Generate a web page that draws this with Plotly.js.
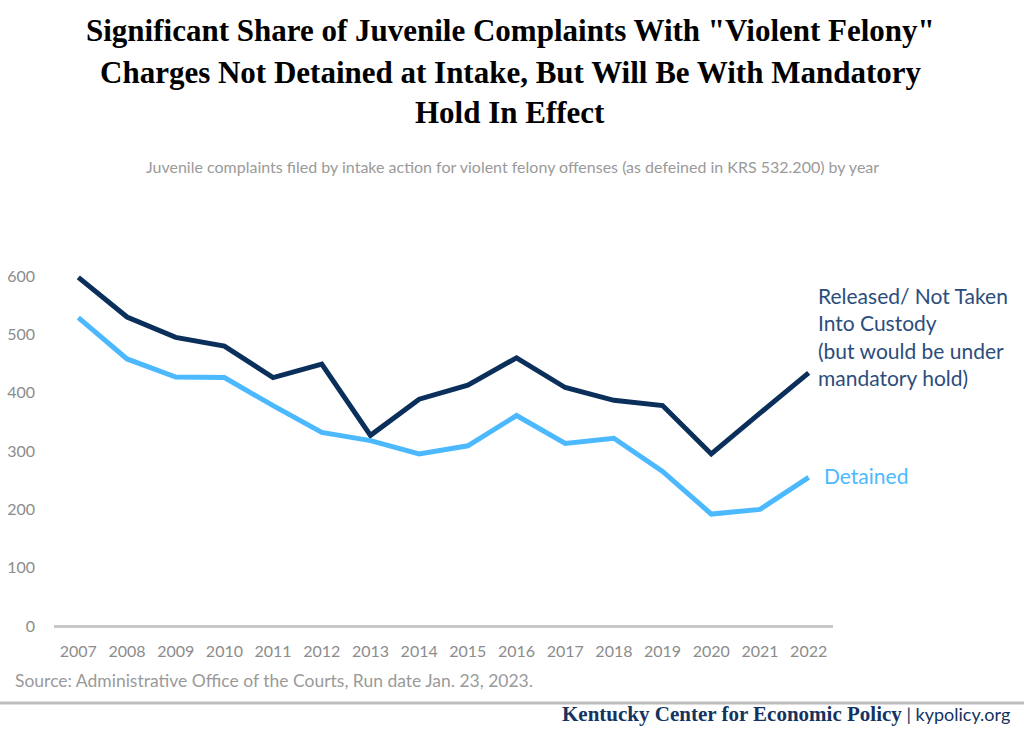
<!DOCTYPE html>
<html>
<head>
<meta charset="utf-8">
<script src="https://cdn.plot.ly/plotly-3.0.1.min.js"></script>
<style>html,body{margin:0;padding:0;background:#fff;}#chart{width:1024px;height:742px;}</style>
</head>
<body>
<div id="chart"></div>
<script>
const years = ["2007","2008","2009","2010","2011","2012","2013","2014","2015","2016","2017","2018","2019","2020","2021","2022"];
const released = [598, 530, 495, 480, 426, 449, 327, 389, 413, 460, 409, 387, 378, 295, 365, 434];
const detained = [529, 458, 427, 426, 378, 332, 318, 295, 309, 361, 313, 322, 265, 192, 200, 255];
const yTicks = [0, 100, 200, 300, 400, 500, 600];

const W = 1024, H = 742;
const L = 54, R = 833, T = 247, B = 626;
const PX = x => (x - L) / (R - L);
const PY = y => (B - y) / (B - T);

const traces = [
  {x: years, y: released, type: 'scatter', mode: 'lines', name: 'Released/ Not Taken Into Custody',
   line: {color: '#0b2f5b', width: 5}, hoverinfo: 'x+y'},
  {x: years, y: detained, type: 'scatter', mode: 'lines', name: 'Detained',
   line: {color: '#4cb9ff', width: 5}, hoverinfo: 'x+y'}
];

const sans = 'Lato, "Open Sans", sans-serif';
const serif = '"Liberation Serif", "DejaVu Serif", serif';
const titleLines = [
  'Significant Share of Juvenile Complaints With "Violent Felony"',
  'Charges Not Detained at Intake, But Will Be With Mandatory',
  'Hold In Effect'
];
const titleY = [30, 72, 113];

const annotations = [];
titleLines.forEach((t, i) => annotations.push({
  text: '<b>' + t + '</b>', xref: 'paper', yref: 'paper', x: PX(510), y: PY(titleY[i]),
  xanchor: 'center', yanchor: 'middle', showarrow: false,
  font: {family: serif, size: 31, color: '#000'}
}));
annotations.push({
  text: 'Juvenile complaints filed by intake action for violent felony offenses (as defeined in KRS 532.200) by year',
  xref: 'paper', yref: 'paper', x: PX(512), y: PY(166), xanchor: 'center', yanchor: 'middle',
  showarrow: false, font: {family: sans, size: 16, color: '#9a9a9a'}
});
annotations.push({
  text: 'Released/ Not Taken<br>Into Custody<br>(but would be under<br>mandatory hold)',
  xref: 'paper', yref: 'paper', x: PX(816), y: PY(336), xanchor: 'left', yanchor: 'middle', align: 'left',
  showarrow: false, font: {family: sans, size: 21, color: '#2c4d7c'}
});
annotations.push({
  text: 'Detained', xref: 'paper', yref: 'paper', x: PX(822), y: PY(475), xanchor: 'left', yanchor: 'middle',
  showarrow: false, font: {family: sans, size: 21, color: '#4cb9ff'}
});
annotations.push({
  text: 'Source: Administrative Office of the Courts, Run date Jan. 23, 2023.',
  xref: 'paper', yref: 'paper', x: PX(13), y: PY(680), xanchor: 'left', yanchor: 'middle',
  showarrow: false, font: {family: sans, size: 17.5, color: '#9a9a9a'}
});
annotations.push({
  text: '<span style="font-family:' + serif.replace(/"/g, "'") + ';font-weight:bold;font-size:21px;">Kentucky Center for Economic Policy</span> | kypolicy.org',
  xref: 'paper', yref: 'paper', x: PX(1012), y: PY(714), xanchor: 'right', yanchor: 'middle',
  showarrow: false, font: {family: sans, size: 18, color: '#14345f'}
});

const layout = {
  width: W, height: H,
  margin: {l: L, r: W - R, t: T, b: H - B, pad: 0},
  paper_bgcolor: '#fff', plot_bgcolor: '#fff',
  showlegend: false,
  xaxis: {
    type: 'category', range: [-0.5, years.length - 0.5],
    showgrid: false, zeroline: false, showline: false,
    ticks: '', ticklabelstandoff: 14,
    tickfont: {family: sans, size: 16, color: '#8c8c8c'}
  },
  yaxis: {
    range: [0, 650], tickvals: yTicks, ticktext: yTicks.map(String),
    showgrid: false, zeroline: true, zerolinecolor: '#c8c8c8', zerolinewidth: 3,
    showline: false, ticks: '', ticklabelstandoff: 18,
    tickfont: {family: sans, size: 16, color: '#8c8c8c'}
  },
  shapes: [
    {type: 'line', xref: 'paper', yref: 'paper', x0: PX(0), x1: PX(1024), y0: PY(703), y1: PY(703),
     line: {color: '#bdbdbd', width: 3}}
  ],
  annotations: annotations
};

Plotly.newPlot('chart', traces, layout, {displayModeBar: false, staticPlot: true});
</script>
</body>
</html>
